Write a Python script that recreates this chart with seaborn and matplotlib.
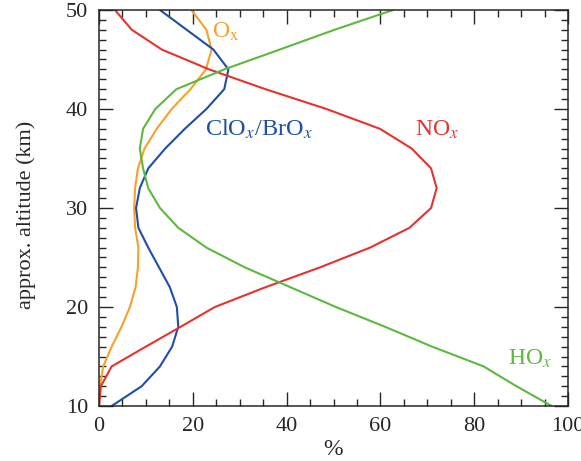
import numpy as np, pandas as pd
import matplotlib
matplotlib.use('Agg')
import matplotlib.pyplot as plt
from matplotlib.ticker import MultipleLocator
import seaborn as sns

# Altitude grid (km) and share of ozone loss (%) per family:
altitude = [10, 12, 14, 16, 18, 20, 22, 24, 26, 28, 30, 32, 34, 36, 38, 40, 42, 44, 46, 48, 50]
noxShare = [0, 0.4, 2.7, 10.0, 17.4, 24.7, 35.5, 47.1, 57.8, 66.2, 70.8, 72.0, 70.8, 66.7, 59.9, 48.5, 35.5, 23.5, 13.4, 7.0, 3.4]
hoxShare = [96.5, 89, 82, 71, 61, 50.5, 40.8, 31.1, 22.9, 16.9, 13.0, 10.5, 9.4, 8.7, 9.4, 12.0, 16.5, 26.7, 38.5, 50.2, 62.7]
oxShare = [0, 0.2, 0.9, 2.7, 4.8, 6.6, 7.8, 8.3, 8.4, 7.7, 7.5, 7.7, 8.3, 9.7, 12.3, 15.5, 19.5, 22.8, 24.0, 22.9, 19.7]
cloxShare = [2.7, 9.1, 13.0, 15.6, 16.9, 16.6, 15.1, 12.8, 10.5, 8.4, 7.9, 8.7, 10.5, 14.1, 18.3, 22.9, 26.7, 27.6, 24.4, 18.7, 13.0]

familyColors = {'Ox': '#F7A12B', 'ClOx': '#1F4EA6', 'NOx': '#E8312C', 'HOx': '#5DB83F'}

### Style:
sns.set_style('ticks')
plt.rcParams['font.family'] = ['Liberation Serif', 'DejaVu Serif']
plt.rcParams['mathtext.fontset'] = 'stix'
plt.rcParams['axes.linewidth'] = 1.1

# Long-form frame for seaborn:
frames = []
for name, vals in [('Ox', oxShare), ('ClOx', cloxShare), ('NOx', noxShare), ('HOx', hoxShare)]:
    frames.append(pd.DataFrame({'alt': altitude, 'pct': vals, 'family': name}))
df = pd.concat(frames, ignore_index=True)

fig = plt.figure(figsize=(5.81, 4.61), dpi=100)
ax = fig.add_axes([99/581, 1 - 406/461, (568 - 99)/581, (406 - 10)/461])

sns.lineplot(data=df, x='pct', y='alt', hue='family', palette=familyColors,
             sort=False, estimator=None, orient='y', linewidth=1.5, legend=False, ax=ax)

ax.set_xlim(0, 100)
ax.set_ylim(10, 50)
ax.xaxis.set_major_locator(MultipleLocator(20))
ax.xaxis.set_minor_locator(MultipleLocator(5))
ax.yaxis.set_major_locator(MultipleLocator(10))
ax.yaxis.set_minor_locator(MultipleLocator(1))
ax.tick_params(which='both', direction='in', top=True, right=True, labelsize=16, pad=8, width=1.0)
ax.tick_params(which='major', length=10)
ax.tick_params(which='minor', length=5)

ax.set_xlabel('%', fontsize=17, labelpad=2)
ax.set_ylabel('approx. altitude (km)', fontsize=16)
ax.yaxis.set_label_coords(-0.135, 0.482)

# Curve labels:
ax.text(24.1, 47.2, r'O$_\mathrm{x}$', color=familyColors['Ox'], fontsize=17)
ax.text(22.5, 37.3, r'ClO$_x$/BrO$_x$', color=familyColors['ClOx'], fontsize=17.5)
ax.text(67.4, 37.3, r'NO$_x$', color=familyColors['NOx'], fontsize=17)
ax.text(87.2, 14.2, r'HO$_x$', color=familyColors['HOx'], fontsize=17)

plt.savefig('out.png', dpi=100)
